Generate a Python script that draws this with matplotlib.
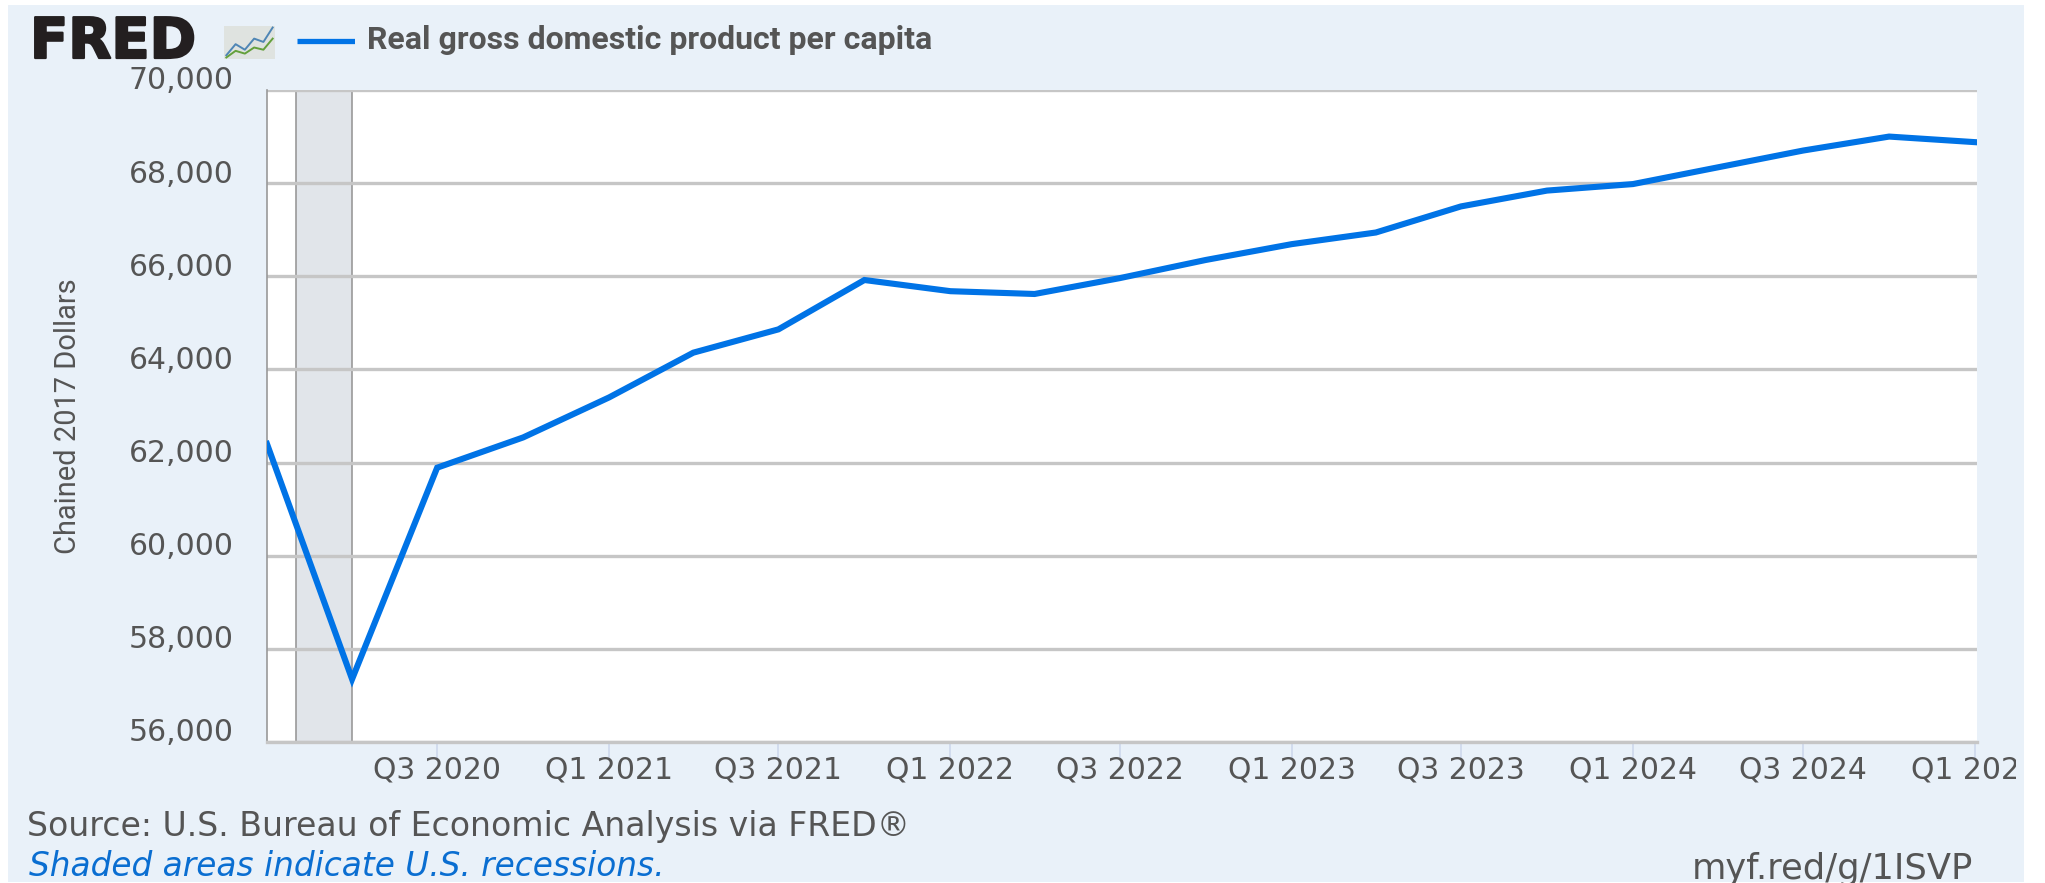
import matplotlib
matplotlib.use('Agg')
import matplotlib.pyplot as plt
import matplotlib.patheffects as pe
import matplotlib.transforms as mtrans
from matplotlib.patches import Rectangle
import pandas as pd

W, H = 2045, 883

quarters = ['2020-01-01', '2020-04-01', '2020-07-01', '2020-10-01',
            '2021-01-01', '2021-04-01', '2021-07-01', '2021-10-01',
            '2022-01-01', '2022-04-01', '2022-07-01', '2022-10-01',
            '2023-01-01', '2023-04-01', '2023-07-01', '2023-10-01',
            '2024-01-01', '2024-04-01', '2024-07-01', '2024-10-01',
            '2025-01-01']
gdp_per_capita = [62400, 57350, 61890, 62540,
                  63400, 64360, 64860, 65920,
                  65680, 65620, 65960, 66350,
                  66690, 66940, 67500, 67840,
                  67980, 68340, 68700, 69000,
                  68880]

x_tick_dates = ['2020-07-01', '2021-01-01', '2021-07-01', '2022-01-01', '2022-07-01',
                '2023-01-01', '2023-07-01', '2024-01-01', '2024-07-01', '2025-01-01']
x_tick_labels = ['Q3 2020', 'Q1 2021', 'Q3 2021', 'Q1 2022', 'Q3 2022',
                 'Q1 2023', 'Q3 2023', 'Q1 2024', 'Q3 2024', 'Q1 2025']
y_ticks = [56000, 58000, 60000, 62000, 64000, 66000, 68000, 70000]
recession = ['2020-02-01', '2020-04-01']

# small trend lines inside the logo badge
badge_blue = [1, 3, 2, 4, 3.4, 6]
badge_green = [0.6, 1.8, 1.3, 2.4, 2.0, 4]

TEXT = '#555555'
BLUE = '#0073e6'
PANEL = '#e9f1f9'


def px_axes(fig, left, top, right, bottom, **kw):
    return fig.add_axes([left / W, 1 - bottom / H, (right - left) / W, (bottom - top) / H], **kw)


def px_text(fig, x, y, s, size_px, **kw):
    kw.setdefault('color', TEXT)
    kw.setdefault('va', 'baseline')
    return fig.text(x / W, 1 - y / H, s, fontsize=size_px * 0.72, **kw)


fig = plt.figure(figsize=(W / 100, H / 100), dpi=100, facecolor='white')
fig.add_artist(Rectangle((8 / W, 1 - 882 / H), (2024 - 8) / W, (882 - 5) / H,
                         transform=fig.transFigure, facecolor=PANEL, edgecolor='none', zorder=-1))

ax = px_axes(fig, 267, 90, 1977, 742, facecolor='white')
dates = pd.to_datetime(quarters)

ax.axvspan(pd.Timestamp(recession[0]), pd.Timestamp(recession[1]),
           facecolor='#e1e5ea', edgecolor='#999999', linewidth=1.2, zorder=1)
ax.plot(dates, gdp_per_capita, color=BLUE, linewidth=4.4, solid_joinstyle='miter', zorder=3)

ax.set_xlim(dates[0], pd.Timestamp('2025-01-03'))
ax.set_ylim(56000, 70000)

ax.set_yticks(y_ticks)
ax.set_yticklabels([f'{v:,}' for v in y_ticks], fontfamily='DejaVu Sans', fontsize=21.5, color=TEXT)
ax.tick_params(axis='y', length=0, pad=24)
ax.grid(axis='y', color='#c6c6c6', linewidth=2.4, zorder=2)

ax.set_xticks(pd.to_datetime(x_tick_dates))
ax.set_xticklabels(x_tick_labels, fontfamily='DejaVu Sans', fontsize=21.5, color=TEXT)
ax.tick_params(axis='x', length=13, width=1.1, color='#ccd6eb', pad=-3)

for side in ['top', 'right']:
    ax.spines[side].set_visible(False)
ax.spines['left'].set_color('#999999')
ax.spines['left'].set_linewidth(1.2)
ax.spines['bottom'].set_color('#c6c6c6')
ax.spines['bottom'].set_linewidth(2.4)

# y labels sit a little above their gridlines
for lab in ax.get_yticklabels():
    lab.set_transform(lab.get_transform() + mtrans.ScaledTranslation(0, 12 / 100, fig.dpi_scale_trans))

# the last x label is cut off at the edge of the panel
last = ax.get_xticklabels()[-1]
last.set_clip_box(mtrans.Bbox([[0, 0], [2016, H]]))
last.set_clip_on(True)

px_text(fig, 68, 416, 'Chained 2017 Dollars', 29, family='Roboto', rotation=90,
        ha='center', va='center')

# header
logo = px_text(fig, 30, 58, 'FRED', 56, family='DejaVu Sans', fontweight='bold', color='#231f20')
logo.set_path_effects([pe.withStroke(linewidth=1.6, foreground='#231f20')])
badge = px_axes(fig, 224, 26, 275, 59, facecolor='#dfe3e0')
badge.plot(badge_blue, color='#4f86b5', linewidth=1.4)
badge.plot(badge_green, color='#64a03c', linewidth=1.4)
badge.set_xticks([])
badge.set_yticks([])
for s in badge.spines.values():
    s.set_visible(False)

legend_ax = px_axes(fig, 297, 37, 355, 45)
legend_ax.axis('off')
legend_ax.plot([0, 1], [0.5, 0.5], color=BLUE, linewidth=3.8, solid_capstyle='butt')
legend_ax.set_xlim(0, 1)
legend_ax.set_ylim(0, 1)

px_text(fig, 367, 49, 'Real gross domestic product per capita', 32, family='Roboto', fontweight='bold')

# footer
px_text(fig, 27, 836, 'Source: U.S. Bureau of Economic Analysis via FRED®', 33.2, family='DejaVu Sans')
px_text(fig, 29, 876, 'Shaded areas indicate U.S. recessions.', 32.8, family='DejaVu Sans',
        style='italic', color='#0a6ed1')
px_text(fig, 1692, 879, 'myf.red/g/1ISVP', 35.3, family='DejaVu Sans')

fig.savefig('out.png', dpi=100)
